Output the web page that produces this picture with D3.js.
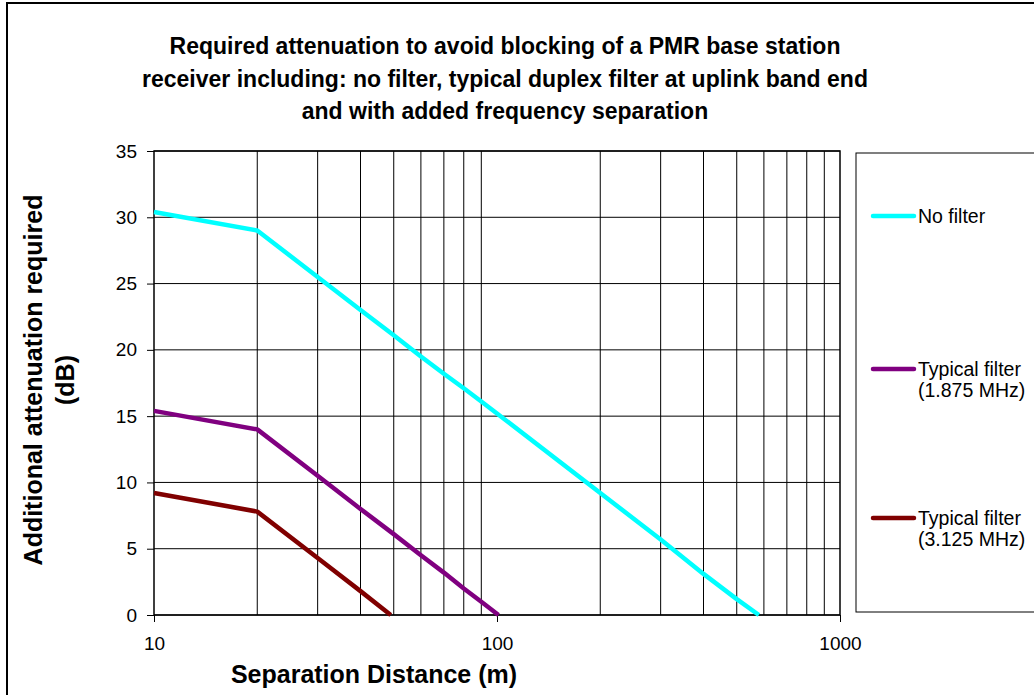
<!DOCTYPE html>
<html>
<head>
<meta charset="utf-8">
<script src="https://cdn.jsdelivr.net/npm/d3@7"></script>
<style>
  body { margin: 0; background: #fff; }
  svg { display: block; font-family: "Liberation Sans", Arial, sans-serif; }
</style>
</head>
<body>
<script>
// separation distance (m) and required attenuation (dB)
const noFilterDist = [10, 20, 30, 40, 50, 60, 70, 80, 90, 100, 200, 300, 400, 500, 580];
const noFilterAtt = [30.4, 29.0, 25.5, 23.0, 21.1, 19.5, 18.2, 17.1, 16.1, 15.2, 9.2, 5.7, 3.1, 1.2, 0];
const filter1Dist = [10, 20, 30, 40, 50, 60, 70, 80, 90, 101];
const filter1Att = [15.4, 14.0, 10.5, 8.0, 6.1, 4.5, 3.2, 2.0, 1.0, 0];
const filter2Dist = [10, 20, 30, 40, 49];
const filter2Att = [9.2, 7.8, 4.3, 1.8, 0];
const yTicks = [0, 5, 10, 15, 20, 25, 30, 35];
const xTicks = [10, 100, 1000];
const seriesNames = ['No filter', 'Typical filter|(1.875 MHz)', 'Typical filter|(3.125 MHz)'];

const series = [
  { name: seriesNames[0], color: '#00ffff', d: noFilterDist, v: noFilterAtt },
  { name: seriesNames[1], color: '#800080', d: filter1Dist, v: filter1Att },
  { name: seriesNames[2], color: '#800000', d: filter2Dist, v: filter2Att },
];

const width = 1034, height = 695;
const margin = { top: 151, left: 154, right: 194, bottom: 80 };

const svg = d3.select('body').append('svg').attr('width', width).attr('height', height);

// outer chart border
svg.append('rect').attr('x', 7).attr('y', 3).attr('width', 1100).attr('height', 800)
  .attr('fill', 'none').attr('stroke', '#000').attr('stroke-width', 2);

const x = d3.scaleLog().domain([10, 1000]).range([margin.left, width - margin.right]);
const y = d3.scaleLinear().domain([0, 35]).range([height - margin.bottom, margin.top]);

// grid
const minor = [];
for (let dec = 10; dec < 1000; dec *= 10) {
  for (let k = 2; k <= 9; k++) minor.push(dec * k);
}
svg.append('g').selectAll('line').data(minor).enter().append('line')
  .attr('x1', d => x(d)).attr('x2', d => x(d))
  .attr('y1', y(0)).attr('y2', y(35))
  .attr('stroke', '#000').attr('stroke-width', 1);
svg.append('g').selectAll('line').data(yTicks).enter().append('line')
  .attr('x1', x(10)).attr('x2', x(1000))
  .attr('y1', d => y(d)).attr('y2', d => y(d))
  .attr('stroke', '#000').attr('stroke-width', 1);
svg.append('rect').attr('x', x(10)).attr('y', y(35))
  .attr('width', x(1000) - x(10)).attr('height', y(0) - y(35))
  .attr('fill', 'none').attr('stroke', '#000').attr('stroke-width', 1.5);

// axes
const yAxis = svg.append('g').attr('transform', `translate(${x(10)},0)`)
  .call(d3.axisLeft(y).tickValues(yTicks).tickSize(7).tickPadding(10).tickFormat(d3.format('d')));
const xAxis = svg.append('g').attr('transform', `translate(0,${y(0)})`)
  .call(d3.axisBottom(x).tickValues(xTicks).tickSize(7).tickPadding(15).tickFormat(d3.format('d')));
[yAxis, xAxis].forEach(a => {
  a.select('.domain').remove();
  a.selectAll('text').attr('font-size', 19).attr('fill', '#000').attr('font-family', 'Liberation Sans, Arial, sans-serif');
  a.selectAll('line').attr('stroke', '#000');
});

// series
const line = d3.line().x(p => x(p[0])).y(p => y(p[1]));
series.forEach(s => {
  svg.append('path')
    .datum(s.d.map((dd, i) => [dd, s.v[i]]))
    .attr('d', line)
    .attr('fill', 'none')
    .attr('stroke', s.color)
    .attr('stroke-width', 4.5)
    .attr('stroke-linejoin', 'round');
});

// titles
const title = ['Required attenuation to avoid blocking of a PMR base station',
  'receiver including: no filter, typical duplex filter at uplink band end',
  'and with added frequency separation'];
svg.append('text').attr('text-anchor', 'middle').attr('font-weight', 'bold').attr('font-size', 23)
  .selectAll('tspan').data(title).enter().append('tspan')
  .attr('x', 505).attr('y', (d, i) => 54 + i * 32.5).text(d => d);

svg.append('text').attr('x', 374).attr('y', 683).attr('text-anchor', 'middle')
  .attr('font-weight', 'bold').attr('font-size', 25).text('Separation Distance (m)');

svg.append('text').attr('text-anchor', 'middle').attr('font-weight', 'bold').attr('font-size', 25)
  .attr('transform', 'translate(0,380) rotate(-90)')
  .selectAll('tspan').data(['Additional attenuation required', '(dB)']).enter().append('tspan')
  .attr('x', 0).attr('y', (d, i) => 42 + i * 32).text(d => d);

// legend
svg.append('rect').attr('x', 856).attr('y', 153).attr('width', 300).attr('height', 459)
  .attr('fill', 'none').attr('stroke', '#000').attr('stroke-width', 1);
const legendY = [216, 369, 518];
series.forEach((s, i) => {
  const g = svg.append('g').attr('transform', `translate(0,${legendY[i]})`);
  g.append('line').attr('x1', 873).attr('x2', 914).attr('y1', 0).attr('y2', 0)
    .attr('stroke', s.color).attr('stroke-width', 4.5).attr('stroke-linecap', 'round');
  g.append('text').attr('font-size', 19.5)
    .selectAll('tspan').data(s.name.split('|')).enter().append('tspan')
    .attr('x', 918).attr('y', (d, j) => 6.5 + j * 21).text(d => d);
});
</script>
</body>
</html>
